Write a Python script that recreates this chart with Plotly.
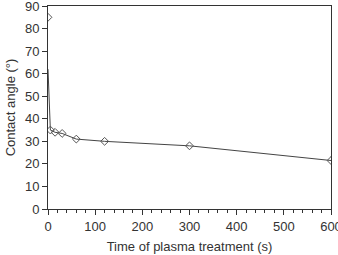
import plotly.graph_objects as go

time_s = [0, 5, 15, 30, 60, 120, 300, 600]
angle = [85, 35, 34, 33.5, 31, 30, 28, 21.5]
drop_time = [0, 5]
drop_angle = [62, 35]

mk = dict(symbol="diamond-open", size=6, color="#555", line=dict(width=1))
fig = go.Figure()
fig.add_trace(go.Scatter(x=drop_time, y=drop_angle, mode="lines",
                         line=dict(color="#444", width=1), showlegend=False))
fig.add_trace(go.Scatter(x=time_s[1:], y=angle[1:], mode="lines+markers",
                         line=dict(color="#444", width=1), marker=mk, showlegend=False))
fig.add_trace(go.Scatter(x=time_s[:1], y=angle[:1], mode="markers",
                         marker=mk, showlegend=False))

axis_font = dict(family="Liberation Sans, Arial", size=13, color="#333")
fig.update_layout(
    width=338, height=255,
    margin=dict(l=48, r=7, t=6, b=46),
    paper_bgcolor="white", plot_bgcolor="white",
    font=axis_font,
    xaxis=dict(range=[0, 600], tickvals=[0, 100, 200, 300, 400, 500, 600],
               ticks="outside", ticklen=5, tickcolor="#333", showgrid=False, zeroline=False,
               showline=True, linecolor="#333", linewidth=1, mirror=True,
               ticklabeloverflow="allow", automargin=False,
               minor=dict(dtick=20, ticks="outside", ticklen=3, tickcolor="#333"),
               title=dict(text="Time of plasma treatment (s)", standoff=9, font=axis_font)),
    yaxis=dict(range=[0, 90], dtick=10, ticks="outside", ticklen=5, tickcolor="#333",
               showgrid=False, zeroline=False, automargin=False,
               ticklabeloverflow="allow",
               showline=True, linecolor="#333", linewidth=1, mirror=True,
               title=dict(text="Contact angle (°)", standoff=6, font=axis_font)),
)
fig.write_html("out.html")
